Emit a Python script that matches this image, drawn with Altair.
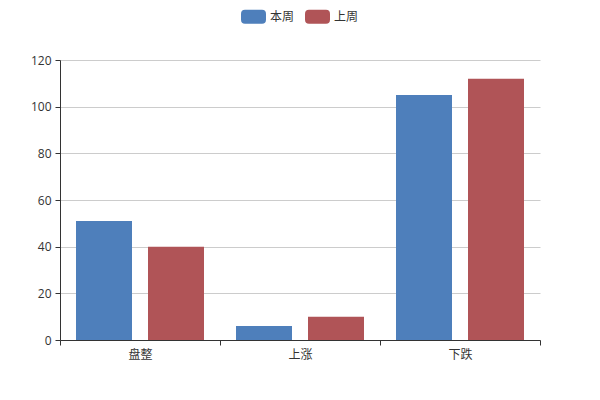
import altair as alt
import pandas as pd

categories = ["盘整", "上涨", "下跌"]
series = ["本周", "上周"]
this_week = [51, 6, 105]
last_week = [40, 10, 112]
colors = ["#4e7fbb", "#b05457"]

rows = []
for i, c in enumerate(categories):
    rows.append({"category": c, "series": series[0], "value": this_week[i]})
    rows.append({"category": c, "series": series[1], "value": last_week[i]})
df = pd.DataFrame(rows)

FONT = "Open Sans, Noto Sans CJK SC"
rounded = ("M -0.68,-0.56 L 0.68,-0.56 Q 1,-0.56 1,-0.24 L 1,0.24 Q 1,0.56 0.68,0.56 "
           "L -0.68,0.56 Q -1,0.56 -1,0.24 L -1,-0.24 Q -1,-0.56 -0.68,-0.56 Z")

chart = alt.Chart(df).mark_bar().encode(
    x=alt.X("category:N", sort=categories, title=None,
            scale=alt.Scale(paddingInner=0, paddingOuter=0),
            axis=alt.Axis(labelAngle=0, tickBand="extent", domainColor="#333", tickColor="#333",
                          tickSize=5, labelColor="#333", labelFontSize=12, labelFont=FONT,
                          labelPadding=4, grid=False)),
    xOffset=alt.XOffset("series:N", sort=series,
                        scale=alt.Scale(paddingInner=16/72, paddingOuter=16/72)),
    y=alt.Y("value:Q", title=None,
            scale=alt.Scale(domain=[0, 120], nice=False),
            axis=alt.Axis(values=[0, 20, 40, 60, 80, 100, 120], domainColor="#333", tickColor="#333",
                          tickSize=5, labelColor="#333", labelFontSize=12, labelFont=FONT,
                          labelPadding=4, gridColor="#ccc", grid=True)),
    color=alt.Color("series:N", sort=series,
                    scale=alt.Scale(domain=series, range=colors),
                    legend=alt.Legend(title=None, orient="none", direction="horizontal",
                                      legendX=181, legendY=-56, padding=0, symbolType=rounded,
                                      symbolSize=625, symbolStrokeWidth=0, symbolOpacity=1,
                                      labelFontSize=12, labelFont=FONT, labelColor="#333",
                                      labelOffset=4, columnPadding=10)),
).properties(
    width=480, height=280,
    autosize=alt.AutoSizeParams(type="none"),
    padding={"left": 52, "top": 52, "right": 52, "bottom": 52},
).configure_view(stroke=None).configure_axis(domainWidth=1)

chart.save("out.html", embed_options={"renderer": "svg", "actions": False})
